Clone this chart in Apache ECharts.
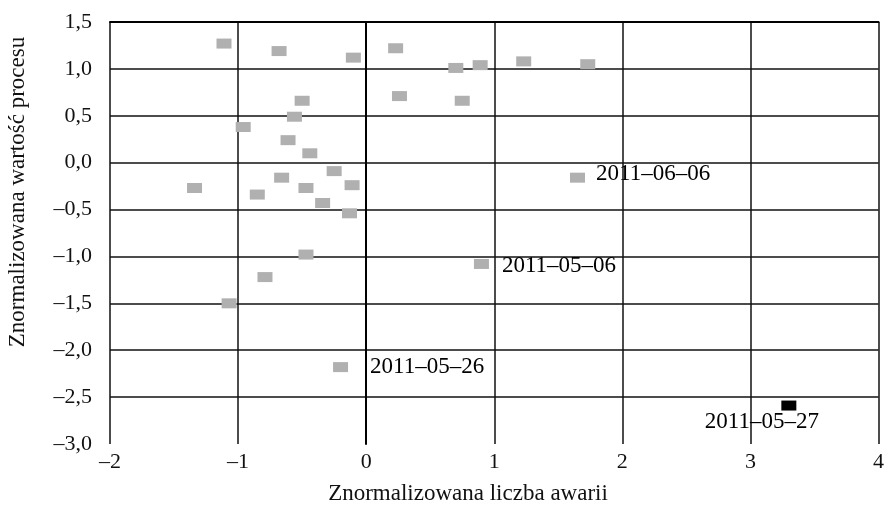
<html lang="pl">
<head>
<meta charset="UTF-8" />
<script src="https://cdn.jsdelivr.net/npm/echarts@6/dist/echarts.min.js"></script>
<style>
* { padding: 0; margin: 0; }
</style>
</head>
<body>
<div id="main" style="width:887px;height:509px"></div>
<script>
// szare punkty
var grayX = [-1.11, -0.68, -0.10, 0.23, -0.50, 0.26, -0.56, -0.96, -0.61, -0.44, -0.25, -0.66, -0.11, -1.34, -0.47,
  -0.85, -0.34, -0.13, 0.70, 0.89, 1.23, 1.73, 0.75, 1.65, -0.47, -0.79, -1.07, -0.20, 0.90]
var grayY = [1.27, 1.19, 1.12, 1.22, 0.66, 0.71, 0.49, 0.38, 0.24, 0.10, -0.09, -0.16, -0.24, -0.27, -0.27,
  -0.34, -0.43, -0.54, 1.01, 1.04, 1.08, 1.05, 0.66, -0.16, -0.98, -1.22, -1.50, -2.18, -1.08]
var grayDates = ["", "", "", "", "", "", "", "", "", "", "", "", "", "", "",
  "", "", "", "", "", "", "", "", "2011\u201306\u201306", "", "", "", "2011\u201305\u201326", "2011\u201305\u201306"]
// punkt odstajacy
var outX = [3.30]
var outY = [-2.59]
var outDates = ["2011\u201305\u201327"]

var xTicks = [-2, -1, 0, 1, 2, 3, 4]
var xName = "Znormalizowana liczba awarii"
var yName = "Znormalizowana warto\u015b\u0107 procesu"

var font = "'Liberation Serif', 'DejaVu Serif', serif"

var labelPlace = {
  "2011\u201306\u201306": { position: "right", distance: 11, offset: [0, -4] },
  "2011\u201305\u201306": { position: "right", distance: 13, offset: [0, 2] },
  "2011\u201305\u201326": { position: "right", distance: 22, offset: [0, 0] },
  "2011\u201305\u201327": { position: "inside", offset: [-27, 16] }
}

function makePoints(xs, ys, dates) {
  return xs.map(function(x, i) {
    var p = { value: [x, ys[i]] }
    if (dates[i]) {
      var pl = labelPlace[dates[i]]
      p.label = {
        show: true,
        formatter: dates[i],
        position: pl.position,
        distance: pl.distance || 0,
        offset: pl.offset,
        color: "#000",
        fontFamily: font,
        fontSize: 23
      }
    }
    return p
  })
}

var fmtY = function(v) {
  var s = Math.abs(v).toFixed(1).replace(".", ",")
  return v < 0 ? "\u2013" + s : s
}

var chart = echarts.init(document.getElementById("main"))
chart.setOption({
  backgroundColor: "#fff",
  animation: false,
  grid: { left: 110, right: 6, top: 22, bottom: 65 },
  xAxis: [
    {
      type: "value",
      min: xTicks[0],
      max: xTicks[xTicks.length - 1],
      interval: 1,
      axisLine: { show: false },
      axisTick: { show: false },
      axisLabel: {
        margin: 7,
        color: "#111",
        fontFamily: font,
        fontSize: 22,
        formatter: function(v) { return v < 0 ? "\u2013" + Math.abs(v) : String(v) }
      },
      splitLine: { show: true, lineStyle: { color: "#111", width: 1.5 } }
    },
    {
      type: "value",
      position: "top",
      min: xTicks[0],
      max: xTicks[xTicks.length - 1],
      axisLine: { show: true, lineStyle: { color: "#000", width: 2 } },
      axisTick: { show: false },
      axisLabel: { show: false },
      splitLine: { show: false }
    }
  ],
  yAxis: {
    type: "value",
    min: -3,
    max: 1.5,
    interval: 0.5,
    axisLine: { show: true, lineStyle: { color: "#000", width: 2 } },
    axisTick: { show: false },
    axisLabel: {
      margin: 18,
      color: "#111",
      fontFamily: font,
      fontSize: 22,
      formatter: fmtY
    },
    splitLine: { show: true, showMinLine: false, lineStyle: { color: "#111", width: 1.5 } }
  },
  graphic: [
    {
      type: "text",
      x: 468,
      y: 494,
      style: { text: xName, font: "23px " + font, fill: "#111", align: "center", verticalAlign: "middle" }
    },
    {
      type: "text",
      x: 18,
      y: 192,
      rotation: Math.PI / 2,
      style: { text: yName, font: "23px " + font, fill: "#111", align: "center", verticalAlign: "middle" }
    }
  ],
  series: [
    {
      type: "scatter",
      symbol: "rect",
      symbolSize: [15, 10],
      itemStyle: { color: "#b0b0b0", opacity: 1 },
      data: makePoints(grayX, grayY, grayDates)
    },
    {
      type: "scatter",
      symbol: "rect",
      symbolSize: [15, 10],
      itemStyle: { color: "#000", opacity: 1 },
      data: makePoints(outX, outY, outDates)
    }
  ]
})
</script>
</body>
</html>
